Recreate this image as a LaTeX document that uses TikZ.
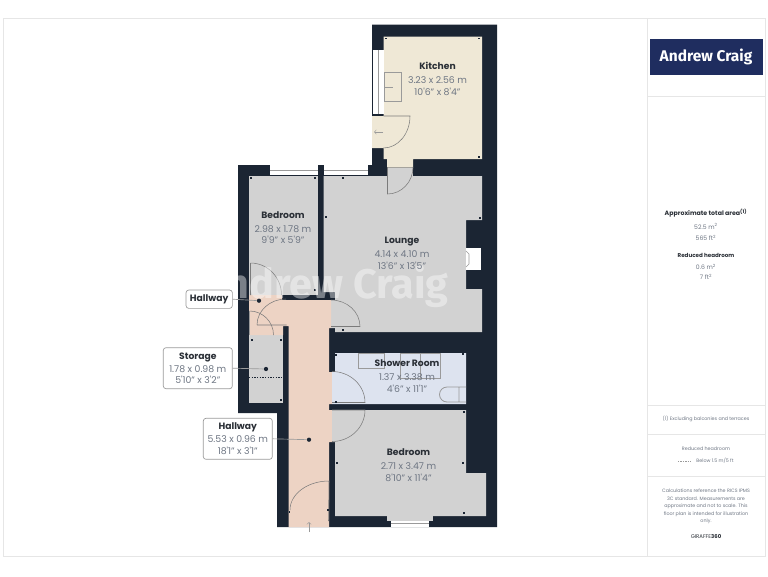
\documentclass[tikz,border=0pt]{standalone}
\usepackage{fontspec}
\setmainfont{Poppins}
\newfontfamily\logofont{Fira Sans}
\usepackage{xcolor}
\usetikzlibrary{positioning,arrows}
\definecolor{wallcol}{HTML}{1B2533}
\definecolor{kitchencol}{HTML}{EFE8D6}
\definecolor{roomcol}{HTML}{D2D2D2}
\definecolor{hallcol}{HTML}{EDD3C4}
\definecolor{showercol}{HTML}{DDE3EF}
\definecolor{logocol}{HTML}{1F2D5F}
\definecolor{framecol}{HTML}{E6E6E6}
\definecolor{fixcol}{HTML}{9A9A9A}
\definecolor{dimcol}{HTML}{6E7683}
\definecolor{headcol}{HTML}{2A2F36}
\tikzset{
  wall/.style={fill=wallcol},
  roomtext/.style={align=center,text=dimcol,font=\fontsize{7}{8.6}\selectfont,inner sep=0pt},
  callout/.style={draw=fixcol,fill=white,rounded corners=2pt,line width=.5pt,align=center,text=dimcol,font=\fontsize{7}{8.6}\selectfont,inner sep=0pt},
  leader/.style={draw=fixcol,line width=.5pt},
  spot/.style={circle,fill=wallcol,inner sep=0pt,minimum size=3.2pt},
  fixture/.style={draw=fixcol,line width=.6pt},
  doorline/.style={draw=fixcol!80!black,line width=.4pt},
  sidehead/.style={text=headcol,font=\fontsize{4.7}{6}\selectfont\bfseries,inner sep=0pt},
  sidetext/.style={text=dimcol,font=\fontsize{4.6}{6}\selectfont,inner sep=0pt,align=center},
  smalltext/.style={text=dimcol,font=\fontsize{3.6}{5.6}\selectfont,inner sep=0pt,align=center},
  frameline/.style={draw=framecol,line width=.6pt}
}
\newcommand{\hd}[1]{{\color{headcol}\fontsize{6.9}{8.6}\selectfont\bfseries #1}}
\newcommand{\qs}{\textquotesingle}
\begin{document}
\begin{tikzpicture}[x=.75pt,y=-.75pt]
\useasboundingbox (0,0) rectangle (768,576);
\draw[frameline] (3,18.5) rectangle (765,556);
\draw[frameline] (647.5,18.5) -- (647.5,556);
\foreach \y in {96.5,405,434,476}
  \draw[frameline] (647.5,\y) -- (765,\y);
\fill[logocol] (649.5,39) rectangle (762.5,75);
\node[text=white,font=\logofont\fontsize{11.6}{14}\selectfont\bfseries,inner sep=0pt] (logo) at (706,57) {Andrew Craig};
% walls
\fill[wall] (372,24.5) -- (497,24.5) -- (497,527) -- (277,527) -- (277,413) -- (238,413) -- (238,165) -- (372,165) -- cycle;
% rooms
\fill[kitchencol] (383.5,36.5) -- (482,36.5) -- (482,159) -- (413,159) -- (413,167.5) -- (387,167.5) -- (387,159) -- (383.5,159) -- (383.5,148) -- (372,148) -- (372,116) -- (383.5,116) -- cycle;
\fill[roomcol] (387,167.5) rectangle (413,177);
\fill[roomcol] (323.5,176) -- (482,176) -- (482,220) -- (466,220) -- (466,289) -- (482,289) -- (482,332) -- (335,332) -- (335,328) -- (331,328) -- (331,300) -- (335,300) -- (335,292) -- (323.5,292) -- cycle;
\fill[roomcol] (249,176) rectangle (318,295);
\fill[roomcol] (249,335) rectangle (283,403);
\fill[hallcol] (249,295) -- (282,295) -- (282,300) -- (331,300) -- (331,328) -- (329,328) -- (329,372) -- (332,372) -- (332,404) -- (329,404) -- (329,410) -- (332,410) -- (332,442) -- (329,442) -- (329,527) -- (288.5,527) -- (288.5,326) -- (283,326) -- (283,335) -- (249,335) -- cycle;
\fill[showercol] (335,353) -- (466,353) -- (466,404) -- (332,404) -- (332,372) -- (335,372) -- cycle;
\fill[roomcol] (332,410) -- (466,410) -- (466,473) -- (486,473) -- (486,516) -- (335,516) -- (335,442) -- (332,442) -- cycle;
\fill[white] (466,248) rectangle (481,270);
\draw[fixture,line width=.4pt] (466,251) -- (469,254) -- (469,264) -- (466,267);
% windows
\fill[white] (270,165) rectangle (318,175);
\fill[white] (323.5,165) rectangle (368,175);
\draw[fixture,line width=.4pt] (270,170) -- (318,170) (323.5,170) -- (368,170);
\fill[white] (372.5,50) rectangle (383.5,114);
\draw[fixture,line width=.4pt] (378,50) -- (378,114);
\fill[roomcol] (387,516) rectangle (433,520.5);
\fill[white] (391,520.5) rectangle (429,527);
\draw[fixture,line width=.4pt] (391,523.5) -- (429,523.5);
% fittings
\draw[fixture] (384,72.5) rectangle (401,101.5);
\draw[fixture,line width=.4pt] (384,87) -- (393,87);
\draw[fixture] (358,353) rectangle (384,368);
\draw[fixture] (400,353) rectangle (440,378) (420,353) -- (420,378);
\draw[fixture] (466,387) -- (447,387) arc (-90:-270:7.5) -- (466,402) (459,387) -- (459,402);
% doors
\draw[doorline] (383.5,116) -- (410,116) arc (0:90:26.5 and 32) -- (383.5,148);
\draw[doorline] (387.5,167) -- (387.5,194) arc (90:0:25.5 and 27);
\draw[doorline] (250.5,263) -- (250.5,295) (250.5,263) arc (-90:0:31 and 32);
\draw[doorline] (331,300) arc (-90:0:29 and 26.5) -- (331,326.5);
\draw[doorline] (249.5,311) arc (-90:0:24 and 24);
\draw[fixture,line width=.8pt] (249.5,311) -- (249.5,335);
\draw[doorline] (257,325) -- (286.5,325) (257,325) arc (180:270:29 and 26);
\draw[doorline] (332,371.5) arc (-90:0:33 and 31) -- (332,402.5);
\draw[doorline] (332,441.5) arc (90:0:33 and 31.5) -- (332,410);
\draw[doorline] (290,510) arc (180:270:39 and 29) -- (328.5,521);
% corner marks
\foreach \x/\y in {386/38.5,479/38.5,479/157,251/178,315/178,315/290,343/178,326/217,480/218,343/330,291.5/298,252/340,281/340,281/400,336/355,463/354,336/402,464/412,337/463,463/463,464/513,289.5/512,328/510}
  \fill[wallcol] (\x-.8,\y-.8) rectangle (\x+.8,\y+.8);
\coordinate (kitchena) at (383,132);
\coordinate (kitchenb) at (374,132);
\draw[->,fixcol,line width=.4pt] (kitchena) -- (kitchenb);
\coordinate (doora) at (309,532);
\coordinate (doorb) at (309,522);
\draw[->,fixcol,line width=.4pt] (doora) -- (doorb);
% watermark
\node[text=white,opacity=.42,font=\logofont\fontsize{31}{36}\selectfont\bfseries,inner sep=0pt] (mark) at (325,286) {Andrew Craig};
% labels
\node[roomtext] (kitchen) at (437.5,79) {\hd{Kitchen}\\[2pt]3.23 x 2.56 m\\10\qs 6" x 8\qs 4"};
\node[roomtext] (bedroomone) at (283,227.5) {\hd{Bedroom}\\[2pt]2.98 x 1.78 m\\9\qs 9" x 5\qs 9"};
\node[roomtext] (lounge) at (402,253) {\hd{Lounge}\\[2pt]4.14 x 4.10 m\\13\qs 6" x 13\qs 5"};
\node[roomtext] (shower) at (407,376) {\hd{Shower Room}\\[2pt]1.37 x 3.38 m\\4\qs 6" x 11\qs 1"};
\node[roomtext] (bedroomtwo) at (408.5,465) {\hd{Bedroom}\\[2pt]2.71 x 3.47 m\\8\qs 10" x 11\qs 4"};
% callouts
\node[callout,minimum width=46.3*.75pt,minimum height=18.3*.75pt] (landing) at (209.2,299.2) {\hd{Hallway}};
\node[callout,minimum width=69*.75pt,minimum height=41*.75pt] (storage) at (197.8,368.2) {\hd{Storage}\\[1pt]1.78 x 0.98 m\\5\qs 10" x 3\qs 2"};
\node[callout,minimum width=69*.75pt,minimum height=41*.75pt] (hallway) at (237.8,438.8) {\hd{Hallway}\\[1pt]5.53 x 0.96 m\\18\qs 1" x 3\qs 1"};
\node[spot] (landingdot) at (259,300.7) {};
\node[spot] (storagedot) at (266,369) {};
\node[spot] (hallwaydot) at (309,439.7) {};
\draw[leader] (landing.east) -- (landingdot);
\draw[leader] (storage.east) -- (storagedot);
\draw[leader] (hallway.east) -- (hallwaydot);
\draw[dash pattern=on 1pt off 1pt,wallcol,line width=.3pt] (249,377) -- (283,377);
% side panel
\node[sidehead] (areahead) at (706,213) {Approximate total area\textsuperscript{\fontsize{3.6}{4}\selectfont(1)}};
\node[sidetext] (areaa) at (706,226.5) {52.5 m\textsuperscript{2}};
\node[sidetext] (areab) at (706,238) {565 ft\textsuperscript{2}};
\node[sidehead,font=\fontsize{4.2}{6}\selectfont\bfseries] (redhead) at (706,255) {Reduced headroom};
\node[sidetext] (reda) at (706,267) {0.6 m\textsuperscript{2}};
\node[sidetext] (redb) at (706,277) {7 ft\textsuperscript{2}};
\node[smalltext] (note) at (706,419) {(1) Excluding balconies and terraces};
\node[smalltext] (keyhead) at (706,449) {Reduced headroom};
\node[smalltext] (keytext) at (715,461) {Below 1.5 m/5 ft};
\coordinate (keya) at (678,461);
\coordinate (keyb) at (691,461);
\draw[dash pattern=on 1pt off .8pt,fixcol,line width=.3pt] (keya) -- (keyb);
\node[smalltext] (calc) at (706,506.5) {Calculations reference the RICS IPMS\\3C standard. Measurements are\\approximate and not to scale. This\\floor plan is intended for illustration\\only.};
\node[sidetext,text=headcol,font=\fontsize{4}{6}\selectfont] (giraffe) at (706,537) {GIRAFFE\textbf{360}};
\end{tikzpicture}
\end{document}
